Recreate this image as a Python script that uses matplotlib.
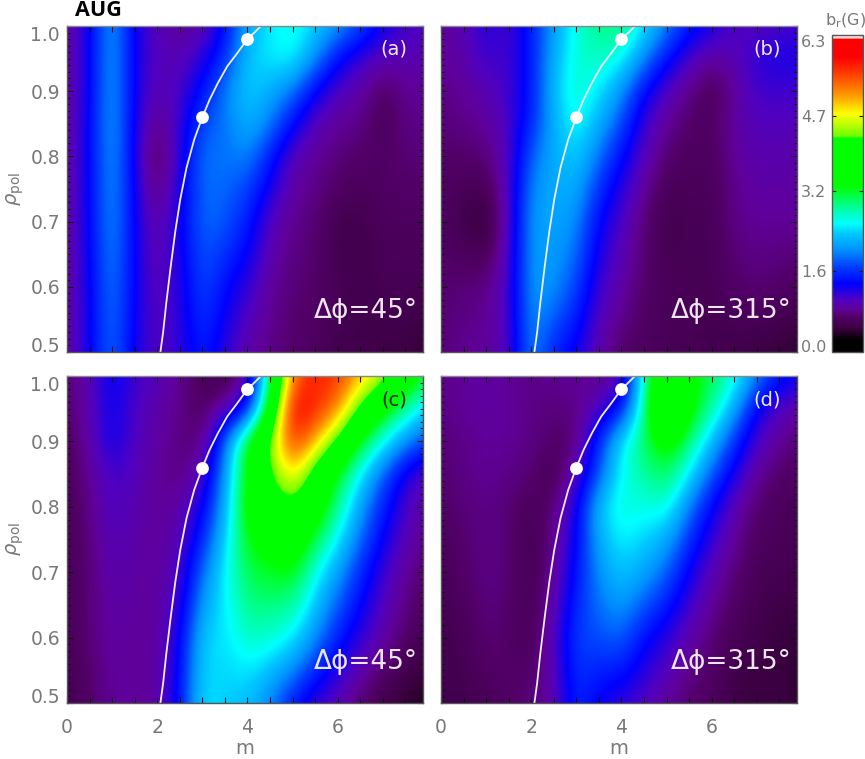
import numpy as np
import matplotlib
matplotlib.use("Agg")
import matplotlib.pyplot as plt
from matplotlib.colors import LinearSegmentedColormap
from matplotlib.cm import ScalarMappable
from matplotlib.colors import Normalize

# spectrum grid, rows go from rho=0.5 up to rho=1.0
m_vals = [0, .5, 1, 1.5, 2, 2.5, 3, 3.5, 4, 4.5, 5, 5.5, 6, 6.5, 7, 7.5, 8]
rho_vals = [.5, .55, .6, .65, .7, .75, .8, .85, .9, .95, 1.0]

br_a = [
    [.85, 1.3, 1.95, 1.25, 1.0, 1.15, 1.55, 1.15, .9, .8, .7, .65, .55, .55, .5, .5, .42],
    [.85, 1.3, 1.98, 1.28, .98, 1.18, 1.65, 1.3, 1.0, .82, .72, .68, .58, .55, .55, .55, .5],
    [.85, 1.3, 2.02, 1.3, .95, 1.2, 1.75, 1.4, 1.15, .85, .75, .7, .6, .55, .6, .6, .6],
    [.85, 1.32, 2.08, 1.3, .9, 1.25, 1.82, 1.6, 1.35, .92, .78, .72, .55, .55, .62, .62, .62],
    [.85, 1.35, 2.12, 1.3, .85, 1.3, 1.88, 1.8, 1.5, 1.0, .8, .75, .55, .55, .65, .65, .65],
    [.85, 1.35, 2.15, 1.28, .7, 1.25, 1.9, 1.85, 1.7, 1.25, .88, .8, .68, .62, .68, .7, .7],
    [.85, 1.35, 2.18, 1.25, .55, 1.2, 1.92, 1.9, 2.0, 1.5, .95, .85, .75, .7, .68, .75, .75],
    [.85, 1.35, 2.22, 1.25, .75, 1.15, 1.75, 1.9, 2.25, 1.95, 1.4, .95, .85, .8, .6, .8, .8],
    [.85, 1.3, 2.22, 1.25, .95, 1.05, 1.45, 1.95, 2.4, 2.2, 1.9, 1.35, 1.0, .9, .65, .85, .85],
    [.85, 1.3, 2.22, 1.25, 1.0, .95, 1.2, 1.6, 2.35, 2.5, 2.6, 2.0, 1.4, 1.1, .95, .95, .95],
    [.85, 1.3, 2.2, 1.25, 1.0, .85, .9, 1.4, 2.2, 2.5, 2.65, 2.4, 2.1, 1.75, 1.3, 1.1, 1.05],
]
br_b = [
    [.75, .85, .85, 1.0, 2.05, 1.5, 1.3, .9, .7, .65, .6, .6, .55, .55, .5, .45, .4],
    [.72, .8, .82, 1.02, 2.1, 1.8, 1.5, 1.0, .8, .68, .62, .6, .58, .6, .62, .58, .52],
    [.72, .75, .8, 1.05, 2.12, 2.05, 1.7, 1.1, .9, .7, .62, .6, .6, .7, .75, .7, .65],
    [.7, .65, .58, 1.02, 2.12, 2.1, 1.9, 1.22, .98, .72, .58, .6, .6, .75, .8, .78, .75],
    [.68, .55, .42, 1.0, 2.12, 2.15, 2.05, 1.35, 1.05, .75, .55, .6, .6, .8, .85, .85, .85],
    [.68, .62, .58, 1.0, 2.02, 2.18, 2.2, 1.6, 1.2, .85, .6, .62, .62, .82, .9, .9, .88],
    [.7, .7, .75, 1.0, 1.85, 2.2, 2.4, 1.9, 1.4, 1.0, .72, .65, .65, .85, .95, .95, .9],
    [.75, .8, .85, 1.05, 1.55, 2.2, 2.65, 2.2, 1.75, 1.1, .85, .7, .65, .9, 1.0, 1.0, 1.0],
    [.8, .85, .95, 1.1, 1.45, 2.3, 2.75, 2.5, 2.05, 1.4, 1.0, .8, .6, .85, 1.1, 1.1, 1.1],
    [.85, .9, 1.15, 1.05, 1.5, 2.2, 2.7, 2.75, 2.6, 2.0, 1.45, 1.05, .85, .95, 1.2, 1.25, 1.3],
    [.85, .95, 1.25, 1.05, 1.5, 2.1, 2.65, 2.95, 3.0, 2.5, 2.0, 1.5, 1.3, 1.05, 1.0, 1.05, 1.1],
]
br_c = [
    [.55, .7, .85, .85, .85, 1.45, 2.5, 2.35, 2.3, 1.95, 1.45, 1.1, .95, .7, .55, .4, .35],
    [.58, .72, .88, .85, .85, 1.38, 2.45, 2.4, 2.5, 2.3, 2.0, 1.55, 1.2, .92, .72, .55, .45],
    [.6, .75, .9, .85, .85, 1.3, 2.4, 2.45, 2.75, 2.7, 2.5, 2.0, 1.5, 1.15, .9, .7, .55],
    [.6, .75, .92, .88, .85, 1.15, 2.15, 2.5, 2.95, 2.95, 2.9, 2.3, 1.8, 1.35, 1.0, .78, .62],
    [.6, .75, .95, .9, .85, 1.05, 1.9, 2.55, 3.1, 3.2, 3.3, 2.6, 2.1, 1.55, 1.1, .85, .7],
    [.6, .78, 1.0, .92, .85, .95, 1.55, 2.4, 3.3, 3.5, 3.7, 3.1, 2.5, 1.85, 1.3, .95, .78],
    [.6, .8, 1.05, .95, .85, .9, 1.3, 2.2, 3.5, 3.9, 4.2, 3.6, 2.9, 2.1, 1.5, 1.05, .85],
    [.62, .85, 1.1, 1.0, .85, .75, 1.0, 2.1, 3.4, 4.2, 4.9, 3.9, 3.2, 2.5, 1.8, 1.2, .95],
    [.65, .9, 1.35, 1.0, .9, .8, .7, 1.9, 3.3, 4.4, 5.7, 5.0, 4.1, 3.2, 2.6, 2.0, 1.7],
    [.7, .95, 1.35, 1.05, .9, .8, .65, .9, 1.3, 3.5, 6.0, 5.7, 5.2, 4.1, 3.4, 2.9, 2.3],
    [.75, .95, 1.4, 1.1, 1.0, .85, .6, .55, .85, 3.0, 5.3, 5.7, 5.6, 5.0, 4.6, 3.6, 3.2],
]
br_d = [
    [.55, .55, .6, .7, .75, .9, 1.6, 1.3, 1.15, 1.0, .85, .7, .65, .5, .45, .5, .4],
    [.55, .58, .68, .7, .68, .95, 1.65, 1.5, 1.5, 1.2, 1.0, .8, .7, .55, .5, .48, .42],
    [.55, .6, .75, .7, .6, 1.0, 1.7, 1.75, 1.85, 1.4, 1.2, .9, .75, .6, .55, .45, .45],
    [.58, .65, .78, .72, .58, .92, 1.58, 1.9, 2.1, 1.8, 1.5, 1.1, .85, .68, .58, .52, .5],
    [.6, .7, .8, .75, .55, .85, 1.45, 2.05, 2.35, 2.15, 1.85, 1.3, .95, .75, .6, .6, .55],
    [.65, .72, .8, .75, .55, .8, 1.35, 2.2, 2.55, 2.4, 2.2, 1.6, 1.15, .85, .65, .62, .58],
    [.7, .75, .8, .75, .6, .75, 1.25, 2.35, 2.7, 2.6, 2.7, 1.95, 1.35, .95, .7, .65, .6],
    [.7, .8, .85, .8, .75, .55, 1.0, 1.75, 2.6, 2.85, 3.1, 2.5, 1.8, 1.25, .85, .7, .65],
    [.75, .8, .85, .85, .8, .7, .7, 1.6, 2.5, 3.05, 3.5, 3.0, 2.3, 1.6, 1.05, .85, .75],
    [.8, .85, .9, .85, .8, .75, .8, 1.0, 1.4, 2.8, 4.8, 3.4, 2.9, 2.2, 1.3, 1.0, .85],
    [.8, .85, .9, .85, .8, .85, .85, .8, .9, 2.7, 4.2, 3.4, 3.1, 2.7, 2.0, 1.5, 1.35],
]

# resonance line and the two marked points
q_m = [2.07, 2.13, 2.2, 2.3, 2.4, 2.51, 2.65, 2.82, 3.0, 3.16, 3.34, 3.55, 3.77, 4.0, 4.14, 4.3]
q_rho = [.5, .53, .575, .632, .685, .734, .783, .826, .86, .887, .912, .938, .958, .98, .989, 1.0]
dot_m = [3, 4]
dot_rho = [.86, .98]

panel_letters = ["(a)", "(b)", "(c)", "(d)"]
letter_colors = ["#f0e8f0", "#f0e8f0", "#222222", "#f0e8f0"]
phase_labels = ["Δϕ=45°", "Δϕ=315°", "Δϕ=45°", "Δϕ=315°"]
cbar_ticks = [0.0, 1.6, 3.2, 4.7, 6.3]
rho_ticks = [.5, .6, .7, .8, .9, 1.0]

# idl style rainbow, value -> colour
cmap_stops = [(0, "#000000"), (.23, "#000000"), (.45, "#38003c"), (.7, "#520068"),
              (.85, "#60009a"), (1.03, "#5000c0"), (1.36, "#0000ff"), (1.7, "#0040ff"), (2.02, "#0090ff"),
              (2.35, "#00c8ff"), (2.55, "#00ffff"), (2.9, "#00ff90"), (3.3, "#00ff00"),
              (4.25, "#00ff00"), (4.3, "#70ff00"), (4.54, "#c0ff00"), (4.74, "#ffff00"),
              (5.14, "#ff9000"), (5.6, "#ff3000"), (5.87, "#ff0000"), (6.22, "#ff0000"),
              (6.25, "#ffd0d0"), (6.3, "#ffffff")]
cmap = LinearSegmentedColormap.from_list("idl", [(v / 6.3, c) for v, c in cmap_stops], N=512)

W, H = 865.0, 759.0
GREY = "#787878"


def make_axes(x0, y0, x1, y1):
    return fig.add_axes([x0 / W, 1 - y1 / H, (x1 - x0) / W, (y1 - y0) / H])


fig = plt.figure(figsize=(8.65, 7.59), dpi=100)
boxes = [(67, 26, 423, 352), (441, 26, 797, 352), (67, 376, 423, 703), (441, 376, 797, 703)]
# half a grid cell on each side so that the samples sit on their m, rho values
extent = [m_vals[0] - .25, m_vals[-1] + .25, rho_vals[0] - .025, rho_vals[-1] + .025]

for i, z in enumerate([br_a, br_b, br_c, br_d]):
    ax = make_axes(*boxes[i])
    ax.imshow(np.array(z), origin="lower", extent=extent, aspect="auto", cmap=cmap, vmin=0, vmax=6.3,
              interpolation="bicubic", interpolation_stage="data")
    ax.plot(q_m, q_rho, color="#f2ecf4", lw=1.3)
    ax.plot(dot_m, dot_rho, "o", color="white", ms=9.2, mew=0, clip_on=False, zorder=5)
    ax.set_xlim(0, 7.89)
    ax.set_ylim(.5, 1.0)
    ax.set_xticks([0, 2, 4, 6])
    ax.set_xticks(np.arange(0, 8, .5), minor=True)
    ax.set_yticks(rho_ticks)
    ax.set_yticks(np.arange(.5, 1.0, .01), minor=True)
    ax.tick_params(which="major", direction="in", top=True, right=True, length=4.5, width=.8,
                   color="#111111", labelsize=13.5, labelcolor=GREY)
    ax.tick_params(which="minor", direction="in", top=True, right=True, length=2.5, width=.8, color="#111111")
    ax.xaxis.set_tick_params(which="minor", length=4.5)
    ax.xaxis.set_tick_params(which="major", pad=11)
    ax.yaxis.set_tick_params(which="major", pad=5)
    for s in ax.spines.values():
        s.set_color("#555555")
        s.set_linewidth(1.0)
    ax.spines["top"].set_color("#888888")

    if i >= 2:
        ax.set_xlabel("m", fontsize=14, color=GREY, labelpad=1)
    else:
        ax.set_xticklabels([])
    if i % 2 == 0:
        ax.set_ylabel(r"$\rho_{\mathrm{pol}}$", fontsize=14, color=GREY, labelpad=3)
        ax.set_yticklabels(["%.1f" % r for r in rho_ticks])
        labs = ax.get_yticklabels()
        labs[0].set_va("baseline")
        labs[-1].set_va("top")
    else:
        ax.set_yticklabels([])

    ax.text(.955, .928, panel_letters[i], transform=ax.transAxes, ha="right", va="center",
            fontsize=14, color=letter_colors[i])
    ax.text(.985, .125, phase_labels[i], transform=ax.transAxes, ha="right", va="center",
            fontsize=19, color="#ece6ec")

# colour bar on the right
cax = make_axes(832, 35, 863, 352)
sm = ScalarMappable(norm=Normalize(0, 6.3), cmap=cmap)
cb = fig.colorbar(sm, cax=cax, ticks=cbar_ticks)
cb.ax.yaxis.set_ticks_position("left")
cb.ax.set_yticklabels(["%.1f" % t for t in cbar_ticks])
cb.ax.tick_params(direction="in", length=3, width=.8, color="#111111", labelsize=11.5, labelcolor=GREY, pad=4,
                  right=True)
labs = cb.ax.get_yticklabels()
labs[0].set_va("baseline")
labs[-1].set_va("top")
cb.outline.set_edgecolor("#555555")
cb.outline.set_linewidth(1.0)
fig.text(845 / W, 1 - 21 / H, r"b$_\mathrm{r}$(G)", ha="center", va="center", fontsize=11.5, color=GREY)

fig.text(75 / W, 1 - 10 / H, "AUG", ha="left", va="center", fontsize=15.5, fontweight="bold",
         family="Open Sans", color="black")

fig.savefig("out.png", dpi=100)
